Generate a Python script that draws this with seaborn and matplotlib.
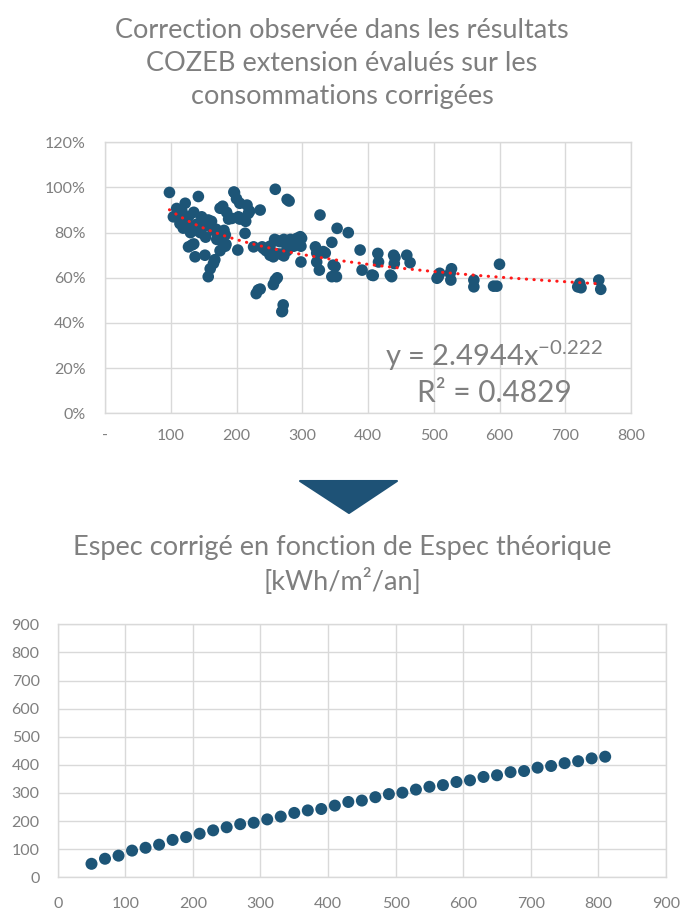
import numpy as np
import pandas as pd
import matplotlib
matplotlib.use("Agg")
import matplotlib.pyplot as plt
import seaborn as sns
from matplotlib.patches import Polygon
from matplotlib.ticker import FuncFormatter, MultipleLocator

# ---- Correction ratio vs theoretical Espec (kWh/m²/an) ----
espec_theo = [98, 104, 109, 112, 114, 117, 119, 122, 124, 127, 127, 130, 132, 132, 135,
              135, 137, 139, 140, 142, 145, 147, 150, 152, 153, 155, 157, 157, 160, 162,
              165, 165, 167, 169, 170, 173, 175, 175, 178, 179, 181, 183, 183, 184, 185,
              188, 193, 196, 197, 200, 202, 203, 205, 205, 212, 213, 214, 216, 218, 220,
              226, 230, 233, 236, 236, 239, 241, 245, 251, 251, 256, 256, 258, 259, 259,
              261, 262, 262, 266, 267, 269, 270, 271, 272, 272, 277, 277, 277, 280, 282,
              282, 287, 287, 292, 292, 297, 298, 298, 299, 320, 322, 322, 326, 327, 332,
              335, 345, 345, 347, 350, 352, 353, 370, 388, 391, 406, 408, 415, 416, 434,
              436, 439, 440, 441, 459, 464, 505, 507, 509, 525, 527, 526, 561, 561, 591,
              596, 600, 719, 722, 724, 751, 754]
correction = [0.978, 0.870, 0.907, 0.880, 0.840, 0.895, 0.820, 0.930, 0.850, 0.870, 0.737,
              0.800, 0.745, 0.825, 0.890, 0.750, 0.693, 0.810, 0.838, 0.960, 0.800, 0.870,
              0.850, 0.700, 0.780, 0.830, 0.856, 0.605, 0.640, 0.850, 0.664, 0.810, 0.680,
              0.815, 0.770, 0.780, 0.908, 0.720, 0.760, 0.917, 0.810, 0.790, 0.740, 0.748,
              0.890, 0.860, 0.863, 0.980, 0.977, 0.950, 0.723, 0.870, 0.930, 0.860, 0.860,
              0.797, 0.850, 0.922, 0.885, 0.895, 0.737, 0.530, 0.546, 0.900, 0.550, 0.737,
              0.730, 0.720, 0.740, 0.700, 0.693, 0.570, 0.770, 0.992, 0.590, 0.707, 0.765,
              0.600, 0.760, 0.705, 0.450, 0.453, 0.480, 0.770, 0.697, 0.720, 0.947, 0.735,
              0.940, 0.770, 0.760, 0.750, 0.740, 0.775, 0.755, 0.782, 0.740, 0.670, 0.775,
              0.737, 0.710, 0.670, 0.634, 0.878, 0.716, 0.710, 0.757, 0.605, 0.656, 0.650,
              0.605, 0.819, 0.800, 0.723, 0.634, 0.612, 0.610, 0.708, 0.670, 0.612, 0.605,
              0.700, 0.663, 0.690, 0.700, 0.667, 0.598, 0.605, 0.620, 0.620, 0.640, 0.590,
              0.590, 0.560, 0.563, 0.563, 0.660, 0.560, 0.575, 0.556, 0.590, 0.549]

# Power trend line  y = a * x^b
fit_a = 2.4944
fit_b = -0.222
fit_r2 = 0.4829

# ---- Corrected Espec vs theoretical Espec ----
espec_x = [50, 70, 90, 110, 130, 150, 170, 190, 210, 230, 250, 270, 290, 310, 330, 350,
           370, 390, 410, 430, 450, 470, 490, 510, 530, 550, 570, 590, 610, 630, 650, 670,
           690, 710, 730, 750, 770, 790, 810]
espec_corr = [48, 66, 77, 95, 105, 116, 133, 143, 155, 167, 178, 189, 194, 206, 216, 229,
              238, 243, 255, 268, 273, 285, 296, 301, 312, 322, 328, 339, 345, 357, 363, 374,
              378, 390, 396, 406, 413, 423, 429]

title_top = "Correction observée dans les résultats\nCOZEB extension évalués sur les\nconsommations corrigées"
title_bottom = "Espec corrigé en fonction de Espec théorique\n[kWh/m²/an]"

DOT = "#1d5577"
GREY = "#7f7f7f"
GRID = "#d9d9d9"

sns.set_style("white")
plt.rcParams["font.family"] = ["Lato", "DejaVu Sans"]
plt.rcParams["mathtext.default"] = "regular"

fig = plt.figure(figsize=(6.84, 9.09), dpi=100)
W, H = 684, 909


def px_axes(left, top, right, bottom):
    return fig.add_axes([left / W, 1 - bottom / H, (right - left) / W, (bottom - top) / H])


def style_axes(ax):
    for s in ax.spines.values():
        s.set_color(GRID)
        s.set_linewidth(1.0)
    ax.grid(True, color=GRID, linewidth=1.0)
    ax.set_axisbelow(True)
    ax.tick_params(length=0, colors=GREY, labelsize=11.5)
    ax.set_xlabel("")
    ax.set_ylabel("")


# Top chart
ax1 = px_axes(105, 142.3, 631, 413.3)
df1 = pd.DataFrame({"espec": espec_theo, "corr": correction})
sns.scatterplot(data=df1, x="espec", y="corr", ax=ax1, color=DOT, s=70,
                edgecolor="none", linewidth=0, zorder=3, legend=False)
xt = np.linspace(min(espec_theo), max(espec_theo), 200)
trend = pd.DataFrame({"x": xt, "y": fit_a * xt ** fit_b})
sns.lineplot(data=trend, x="x", y="y", ax=ax1, color="#ff1a1a", linewidth=2.2,
             linestyle=(0, (0.1, 2.4)), dash_capstyle="round", zorder=4)
ax1.set_xlim(0, 800)
ax1.set_ylim(0, 1.2)
ax1.xaxis.set_major_locator(MultipleLocator(100))
ax1.yaxis.set_major_locator(MultipleLocator(0.2))
ax1.xaxis.set_major_formatter(FuncFormatter(lambda v, p: "-" if v == 0 else f"{v:.0f}"))
ax1.yaxis.set_major_formatter(FuncFormatter(lambda v, p: f"{v * 100:.0f}%"))
style_axes(ax1)
ax1.tick_params(axis="y", pad=14)
ax1.tick_params(axis="x", pad=11)
ax1.text(592, 0.255, f"y = {fit_a}x$^{{{fit_b}}}$", ha="center", va="center",
         fontsize=21, color=GREY)
ax1.text(592, 0.09, f"R² = {fit_r2}", ha="center", va="center", fontsize=21.5, color=GREY)

# Bottom chart
ax2 = px_axes(57.7, 624.3, 666, 877.3)
df2 = pd.DataFrame({"theo": espec_x, "corr": espec_corr})
sns.scatterplot(data=df2, x="theo", y="corr", ax=ax2, color=DOT, s=75,
                edgecolor="none", linewidth=0, zorder=3, legend=False)
ax2.set_xlim(0, 900)
ax2.set_ylim(0, 900)
ax2.xaxis.set_major_locator(MultipleLocator(100))
ax2.yaxis.set_major_locator(MultipleLocator(100))
style_axes(ax2)
ax2.tick_params(axis="y", pad=13)
ax2.tick_params(axis="x", pad=14)

# Titles
fig.text(342 / W, 1 - 63.5 / H, title_top, ha="center", va="center", fontsize=19.5,
         color=GREY, linespacing=1.4)
fig.text(342 / W, 1 - 565 / H, title_bottom, ha="center", va="center", fontsize=19.5,
         color=GREY, linespacing=1.4)

# Down arrow between the two charts
tri = Polygon([[300 / W, 1 - 481 / H], [397 / W, 1 - 481 / H], [349 / W, 1 - 513 / H]],
              closed=True, transform=fig.transFigure, facecolor="#1e5276",
              edgecolor="#1e5276", linewidth=1.5, joinstyle="round")
fig.patches.append(tri)

fig.savefig("out.png", dpi=100)
